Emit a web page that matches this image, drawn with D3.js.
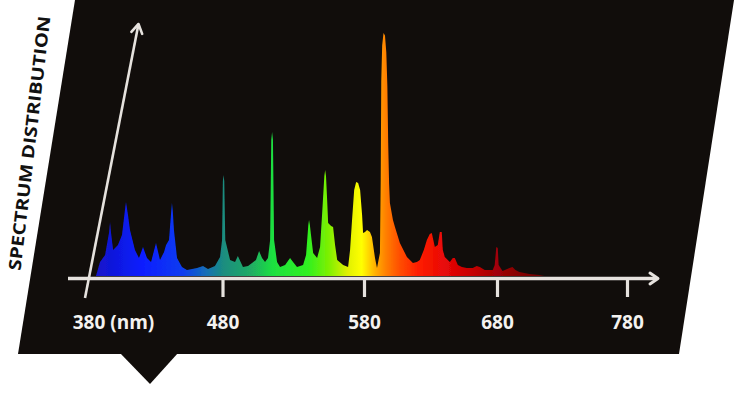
<!DOCTYPE html>
<html>
<head>
<meta charset="utf-8">
<script src="https://cdn.jsdelivr.net/npm/d3@7/dist/d3.min.js"></script>
<style>
  html, body { margin: 0; padding: 0; background: #ffffff; }
  svg { display: block; }
</style>
</head>
<body>
<svg id="chart" width="750" height="403"></svg>
<script>
// ---------------- DATA ----------------
const wavelengths = [385.2, 388.2, 392, 395, 395.7, 396.4, 398, 401.6, 404.6, 407, 407.6, 408.3, 409.1, 410.6, 414.3, 417.3, 420.3, 423.3, 426.3, 430, 433, 436, 437.5, 439.7, 441.4, 441.9, 442.5, 443.4, 445.7, 449.4, 453.1, 456.9, 460.6, 465.1, 468.8, 474, 477.8, 479.3, 479.9, 480.4, 480.9, 481.6, 485, 488.5, 490.5, 494.1, 497.7, 500.5, 503.3, 505.5, 507.6, 509.7, 511.8, 513.3, 514.1, 514.7, 515.3, 516.1, 518.2, 520.3, 523.9, 527.4, 529.5, 532.3, 536.6, 538.7, 540.3, 540.8, 541.4, 542.2, 543.7, 546.5, 548.6, 550, 551.6, 552.2, 552.8, 553.6, 554.3, 556.4, 557.8, 559.2, 560.7, 564.9, 568.4, 569.8, 571.2, 572.7, 574.1, 575.5, 576.9, 578.3, 579, 580.4, 581.9, 584.1, 585.6, 587.9, 589.4, 591.6, 592.2, 592.6, 593.3, 594.3, 595.4, 596.4, 597.2, 597.8, 598.5, 599.1, 601.4, 602.9, 606.6, 611.9, 616.4, 619.4, 621.6, 624.6, 626.9, 629.1, 630.6, 632.9, 635.1, 636.6, 638.1, 638.9, 640.4, 644.2, 646.4, 647.9, 650.2, 653.2, 656.9, 661.4, 664.4, 666.7, 670.4, 676.4, 677.9, 679.1, 680.2, 680.9, 683.9, 689.2, 691.5, 693.8, 696.8, 704.5, 712.2, 716];
const intensity   = [0, 5.8, 8.6, 18, 22.2, 18, 10.7, 12.8, 16.9, 28, 30.5, 28, 25.1, 18.9, 10.7, 7.4, 11.9, 7.4, 5.8, 13.6, 6.6, 9.9, 12.8, 14.8, 27, 30, 27, 18.9, 7.4, 3.7, 2.5, 2.9, 3.3, 4.1, 2.9, 4.1, 7.8, 14.8, 39, 41.6, 39, 14.8, 6.6, 5.8, 8.2, 3.7, 4.1, 5.3, 6.6, 10.3, 7.4, 5.8, 7.4, 14.8, 56, 59.3, 56, 14.8, 5.8, 3.7, 4.5, 7.4, 5.8, 3.7, 4.5, 8.6, 21, 23, 21, 16.9, 9.5, 7.4, 11.9, 25.1, 41, 43.6, 41, 31.3, 21.8, 20.6, 20.2, 12.8, 6.6, 4.5, 3.7, 10.7, 23, 35.4, 38.7, 38.3, 35.4, 25.1, 17.7, 18.1, 18.9, 18.1, 16, 7.4, 3.3, 9.5, 40, 80, 95, 100, 99, 92, 78, 55, 38, 30, 23, 20.2, 13.6, 7.8, 5.3, 5.8, 6.6, 10.7, 14.8, 17.3, 17.7, 11.9, 12.8, 18.1, 18.1, 10.7, 7.8, 5.8, 7.4, 7.4, 4.5, 3.7, 3.3, 3.3, 4.1, 3.7, 2.5, 2.5, 4.5, 11.9, 11.5, 4.5, 2.1, 3.3, 3.7, 2.5, 1.6, 0.8, 0.4, 0];

const tickValues = [380, 480, 580, 680, 780];
const tickLabels = ["380 (nm)", "480", "580", "680", "780"];
const yTitle = "SPECTRUM DISTRIBUTION";

const stopWavelengths = [385, 420, 450, 468, 480, 500, 515, 540, 555, 568, 578, 588, 596, 606, 620, 640, 660, 680, 700, 716];
const stopColors      = ["#1414c8", "#0a1eff", "#0a3cf0", "#1470b4", "#1a8c80", "#20ac64", "#1ee040", "#30f020", "#80f000", "#e0f000", "#ffff00", "#ffb000", "#ff8000", "#ff5000", "#ff1e00", "#e80808", "#c80000", "#a00008", "#800000", "#700000"];

// ---------------- DRAW ----------------
const svg = d3.select("#chart");
const bg = "#110d0b";
const axisCol = "#e6e2de";

// background panel (parallelogram + pointer)
svg.append("path")
  .attr("d", "M75,0 L734,0 L679,354 L18,354 Z")
  .attr("fill", bg);
svg.append("path")
  .attr("d", "M120,353 L178,353 L150,384 Z")
  .attr("fill", bg);

const x = d3.scaleLinear().domain(tickValues).range([89, 223, 364.5, 497.5, 627.5]);
const y = d3.scaleLinear().domain([0, 100]).range([276, 33]);

// gradient
const defs = svg.append("defs");
const x0 = x(stopWavelengths[0]), x1 = x(stopWavelengths[stopWavelengths.length - 1]);
const grad = defs.append("linearGradient")
  .attr("id", "spec")
  .attr("gradientUnits", "userSpaceOnUse")
  .attr("x1", x0).attr("x2", x1)
  .attr("y1", 0).attr("y2", 0);
grad.selectAll("stop").data(stopWavelengths).join("stop")
  .attr("offset", d => (x(d) - x0) / (x1 - x0))
  .attr("stop-color", (d, i) => stopColors[i]);

defs.append("filter").attr("id", "soft")
  .append("feGaussianBlur").attr("stdDeviation", 0.5);

const pts = wavelengths.map((w, i) => ({ w, v: intensity[i] }));
const area = d3.area()
  .x(d => x(d.w))
  .y0(y(0))
  .y1(d => y(d.v))
  .curve(d3.curveLinear);

svg.append("path")
  .datum(pts)
  .attr("d", area)
  .attr("fill", "url(#spec)")
  .attr("filter", "url(#soft)");

// x axis line with arrow
const axisY = 278.5;
svg.append("line")
  .attr("x1", 68).attr("x2", 657)
  .attr("y1", axisY).attr("y2", axisY)
  .attr("stroke", axisCol).attr("stroke-width", 3.5);
svg.append("path")
  .attr("d", `M650,${axisY - 5.5} L658,${axisY} L650,${axisY + 5.5}`)
  .attr("fill", "none").attr("stroke", axisCol).attr("stroke-width", 3)
  .attr("stroke-linejoin", "round").attr("stroke-linecap", "round");

// ticks (skip first: the slanted y axis marks 380)
svg.selectAll(".tick").data(tickValues.slice(1)).join("line")
  .attr("class", "tick")
  .attr("x1", d => x(d)).attr("x2", d => x(d))
  .attr("y1", axisY).attr("y2", 297)
  .attr("stroke", axisCol).attr("stroke-width", 3.2);

// tick labels
const labelFont = "'Open Sans', sans-serif";
const labelWeight = 700, labelSize = 19;
const labels = svg.selectAll(".lbl").data(tickValues).join("text")
  .attr("class", "lbl")
  .attr("y", 329)
  .attr("font-family", labelFont)
  .attr("font-weight", labelWeight)
  .attr("font-size", labelSize)
  .attr("fill", "#f4f2f0")
  .text((d, i) => tickLabels[i]);
labels.each(function (d, i) {
  const t = d3.select(this);
  if (i === 0) {
    const probe = svg.append("text").attr("font-family", labelFont).attr("font-weight", labelWeight)
      .attr("font-size", labelSize).text(String(d));
    const w = probe.node().getComputedTextLength();
    probe.remove();
    t.attr("x", x(d) - w / 2).attr("text-anchor", "start");
  } else {
    t.attr("x", x(d)).attr("text-anchor", "middle");
  }
});

// slanted y axis with arrow
const ya = { x1: 85, y1: 298, x2: 138.5, y2: 24 };
svg.append("line")
  .attr("x1", ya.x1).attr("y1", ya.y1).attr("x2", ya.x2).attr("y2", ya.y2)
  .attr("stroke", axisCol).attr("stroke-width", 2.6);
{
  const dx = ya.x2 - ya.x1, dy = ya.y2 - ya.y1, L = Math.hypot(dx, dy);
  const ux = dx / L, uy = dy / L, nx = -uy, ny = ux;
  const bx = ya.x2 - 9 * ux, by = ya.y2 - 9 * uy;
  svg.append("path")
    .attr("d", `M${bx + 5.5 * nx},${by + 5.5 * ny} L${ya.x2},${ya.y2} L${bx - 5.5 * nx},${by - 5.5 * ny}`)
    .attr("fill", "none").attr("stroke", axisCol).attr("stroke-width", 2.6)
    .attr("stroke-linejoin", "round").attr("stroke-linecap", "round");
}

// y axis title (slanted, outside the panel)
svg.append("text")
  .attr("transform", "translate(29,143) rotate(-83.3)")
  .attr("text-anchor", "middle")
  .attr("dominant-baseline", "central")
  .attr("font-family", "'Open Sans', sans-serif")
  .attr("font-weight", 700)
  .attr("font-size", 17)
  .attr("textLength", 256)
  .attr("lengthAdjust", "spacingAndGlyphs")
  .attr("fill", "#111111")
  .text(yTitle);
</script>
</body>
</html>
